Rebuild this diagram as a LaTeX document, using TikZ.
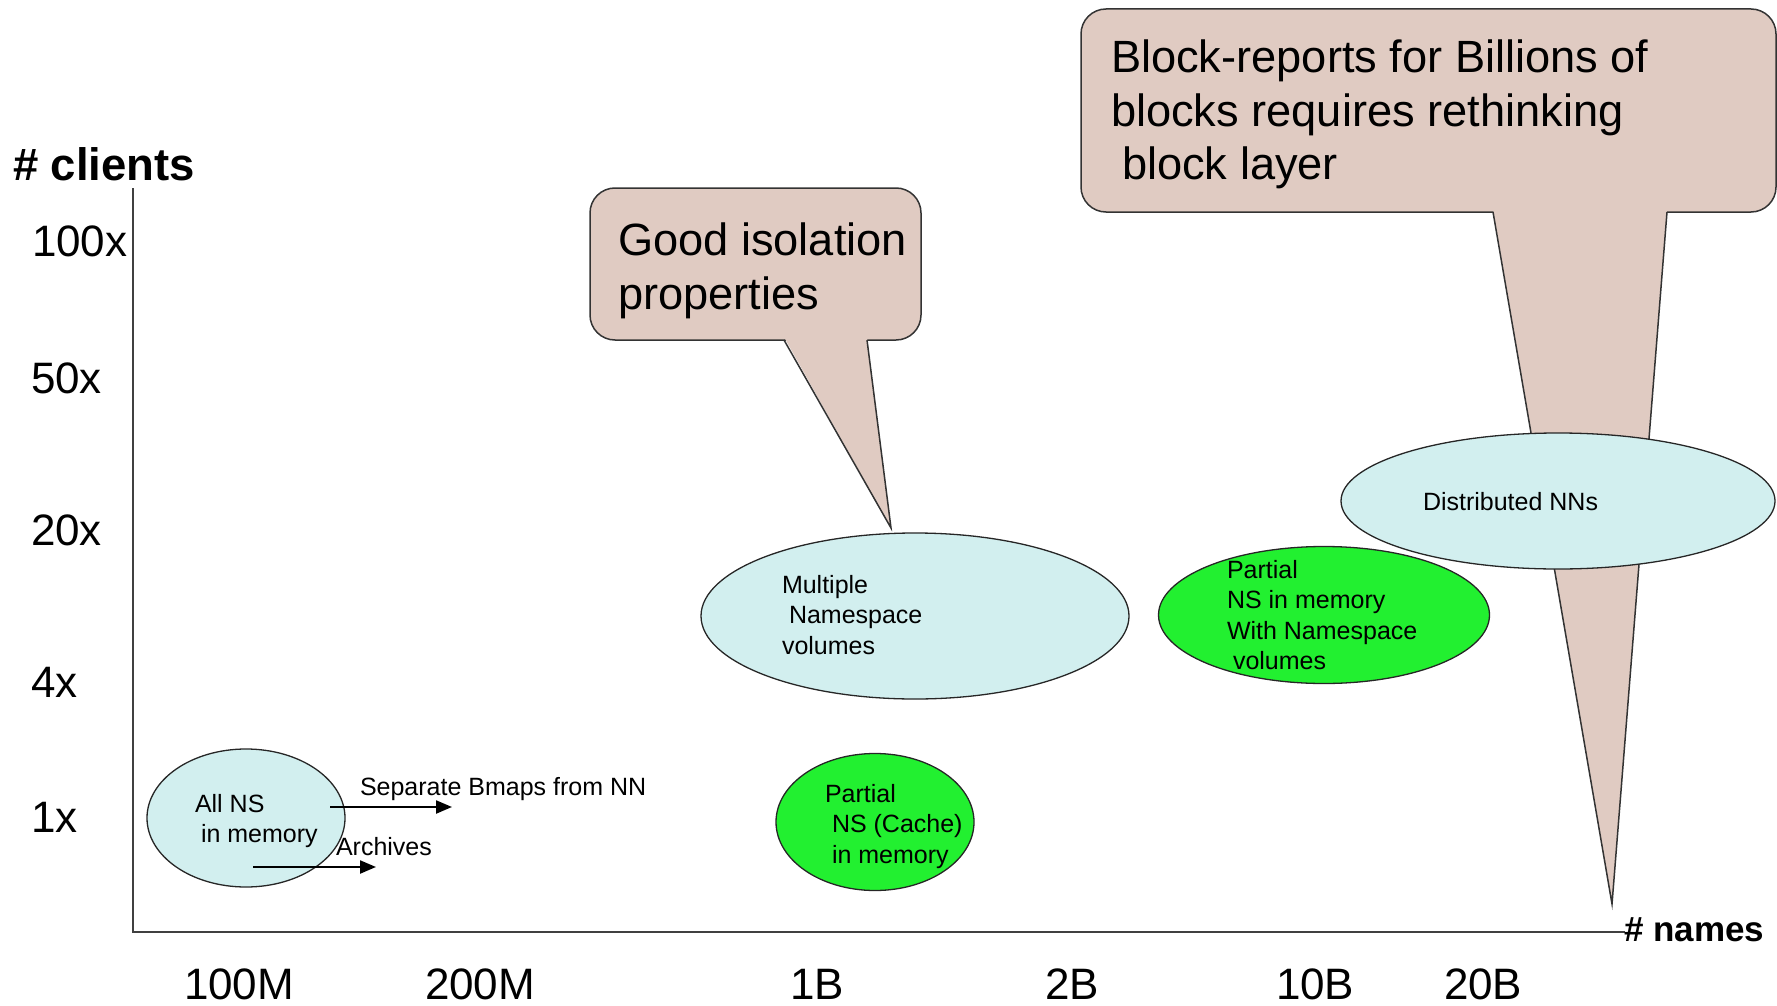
\documentclass[tikz,border=0pt]{standalone}
\usepackage{fontspec}
\setmainfont{Liberation Sans}
\usetikzlibrary{shapes.geometric,arrows.meta}

\definecolor{notefill}{HTML}{E0CBC2}
\definecolor{paleblue}{HTML}{D2EFEF}
\definecolor{brightgreen}{HTML}{22F030}
\definecolor{axisgray}{HTML}{404040}

\newcommand\tickfont{\fontsize{44}{52}\selectfont}
\newcommand\notefont{\fontsize{45.2}{54}\selectfont}
\newcommand\bubfont{\fontsize{25}{30.5}\selectfont}

\tikzset{
  axisline/.style={draw=axisgray, line width=2},
  lbl/.style={anchor=base west, inner sep=0, outer sep=0},
  bubble/.style={ellipse, draw=black!85, line width=1.3, inner sep=0},
  cyanbubble/.style={bubble, fill=paleblue},
  greenbubble/.style={bubble, fill=brightgreen},
  notebox/.style={fill=notefill, draw=black!80, line width=1.5, rounded corners=25},
  noteedge/.style={draw=black!80, line width=1.5},
  arr/.style={line width=2.2, -{Triangle[length=16,width=13]}}
}

\begin{document}
\begin{tikzpicture}[x=1pt,y=-1pt]
\useasboundingbox (0,0) rectangle (1777,1006);

% axes
\coordinate (origin) at (133,932);
\coordinate (ytop) at (133,188);
\coordinate (xend) at (1625,932);
\draw[axisline] (ytop) -- (origin) -- (xend);

\node[lbl] (yname) at (13,180) {\fontsize{45.5}{52}\selectfont\bfseries \# clients};
\node[lbl] (xname) at (1624,941) {\fontsize{35}{42}\selectfont\bfseries \# names};

% y ticks
\node[lbl] (y100) at (32,256) {\tickfont 100x};
\node[lbl] (y50)  at (31,393) {\tickfont 50x};
\node[lbl] (y20)  at (31,545) {\tickfont 20x};
\node[lbl] (y4)   at (31,697) {\tickfont 4x};
\node[lbl] (y1)   at (31,832) {\tickfont 1x};

% x ticks
\node[lbl] (x100m) at (184,999) {\tickfont 100M};
\node[lbl] (x200m) at (425,999) {\tickfont 200M};
\node[lbl] (x1b)   at (790,999) {\tickfont 1B};
\node[lbl] (x2b)   at (1045,999) {\tickfont 2B};
\node[lbl] (x10b)  at (1276,999) {\tickfont 10B};
\node[lbl] (x20b)  at (1444,999) {\tickfont 20B};

% callout: isolation
\draw[notebox] (590,188) rectangle (921,340);
\fill[notefill] (784,337) -- (891,528) -- (867,337) -- cycle;
\draw[noteedge] (784,340) -- (891,528) -- (867,340);
\node[lbl] (isolation) at (618,255)
  {\parbox[t]{320pt}{\notefont Good isolation\\properties}};

% bubbles
\node[cyanbubble, minimum width=198, minimum height=138] (allns) at (246,818) {};
\node[lbl] (allnstext) at (195,812)
  {\parbox[t]{150pt}{\bubfont All NS\\\hspace*{6pt}in memory}};

\node[cyanbubble, minimum width=428, minimum height=166] (multi) at (915,616) {};
\node[lbl] (multitext) at (782,593)
  {\parbox[t]{200pt}{\bubfont Multiple\\\hspace*{7pt}Namespace\\volumes}};

\node[greenbubble, minimum width=198, minimum height=137] (cache) at (875,822) {};
\node[lbl] (cachetext) at (825,802)
  {\parbox[t]{160pt}{\bubfont Partial\\\hspace*{7pt}NS (Cache)\\\hspace*{7pt}in memory}};

\node[greenbubble, minimum width=331, minimum height=137] (partial) at (1324,615) {};
\node[lbl] (partialtext) at (1227,578)
  {\parbox[t]{220pt}{\bubfont Partial\\NS in memory\\With Namespace\\\hspace*{6pt}volumes}};

% arrows out of the first bubble
\coordinate (sepStart) at (330,807);
\coordinate (sepEnd) at (452,807);
\draw[arr] (sepStart) -- (sepEnd);
\node[lbl] (seplabel) at (360,795) {\bubfont Separate Bmaps from NN};

\coordinate (arcStart) at (253,867);
\coordinate (arcEnd) at (376,867);
\draw[arr] (arcStart) -- (arcEnd);
\node[lbl] (arclabel) at (336,855) {\bubfont Archives};

% callout: block reports
\draw[notebox] (1081,9) rectangle (1776,212);
\fill[notefill] (1493,209) -- (1612,904) -- (1667,209) -- cycle;
\draw[noteedge] (1493,212) -- (1612,904) -- (1667,212);
\node[lbl] (blocks) at (1111,73)
  {\parbox[t]{640pt}{\fontsize{45.2}{53.5}\selectfont Block-reports for Billions of\\blocks requires rethinking\\\hspace*{11pt}block layer}};

\node[cyanbubble, minimum width=434, minimum height=136] (distributed) at (1558,501) {};
\node[lbl] (distext) at (1423,510) {\bubfont Distributed NNs};

\end{tikzpicture}
\end{document}
